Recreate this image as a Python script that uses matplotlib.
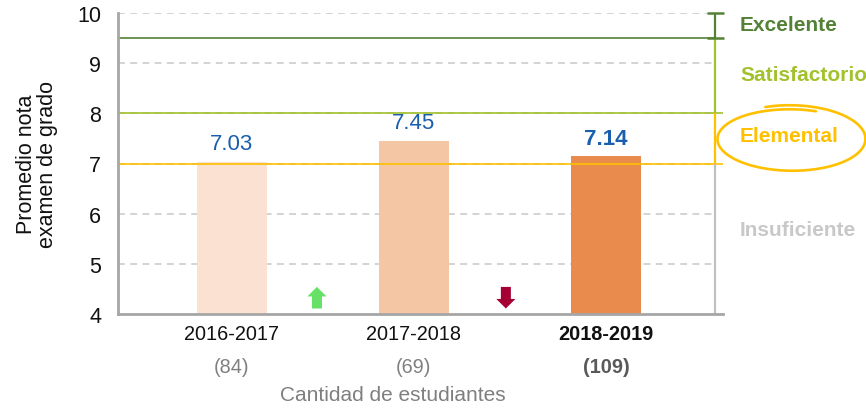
import numpy as np
import matplotlib
matplotlib.use("Agg")
import matplotlib.pyplot as plt
from matplotlib.patches import FancyArrow
from matplotlib.lines import Line2D

plt.rcParams['font.family'] = ['Liberation Sans', 'DejaVu Sans']

# ---- data ----
periods = ["2016-2017", "2017-2018", "2018-2019"]
scores = [7.03, 7.45, 7.14]
students = [84, 69, 109]
bar_colors = ["#FBE1D1", "#F4C6A3", "#E88B4C"]
levels = ["Excelente", "Satisfactorio", "Elemental", "Insuficiente"]
level_bounds = [10, 9.5, 8, 7, 4]
level_colors = ["#538135", "#A2C12C", "#FFC000", "#C0C0C0"]
level_text_y = [9.78, 8.78, 7.55, 5.69]
trend_dirs = ["up", "down"]

# ---- layout ----
W, H = 866, 410
fig = plt.figure(figsize=(W / 100, H / 100), dpi=100)
ax = fig.add_axes([118 / W, 95 / H, 605 / W, 301 / H])
xpos = [0, 1, 2.055]
xlim = (-0.626, 2.698)
ax.set_xlim(*xlim)
ax.set_ylim(4, 10)

spine_c = "#A6A6A6"
for s in ["top", "right"]:
    ax.spines[s].set_visible(False)
for s in ["left", "bottom"]:
    ax.spines[s].set_color(spine_c)
    ax.spines[s].set_linewidth(2)
    ax.spines[s].set_zorder(5)

# grid
for yv in [5, 6, 7, 8, 9, 10]:
    ax.hlines(yv, xlim[0], 2.637, colors="#C8C8C8", linestyles=(0, (4.5, 3.5)),
              linewidth=1.1, zorder=1)

# bars
ax.bar(xpos, scores, width=0.385, color=bar_colors, zorder=2, bottom=0)

# level lines
ax.hlines(level_bounds[1], xlim[0], 2.654, colors=level_colors[0], linewidth=1.2, zorder=3)
ax.hlines(level_bounds[2], xlim[0], xlim[1], colors=level_colors[1], linewidth=1.2, zorder=3)
ax.hlines(level_bounds[3], xlim[0], xlim[1], colors=level_colors[2], linewidth=1.2, zorder=3)

# range bar
rx = 2.654
for i in range(4):
    ax.vlines(rx, level_bounds[i + 1], level_bounds[i], colors=level_colors[i],
              linewidth=1.6, zorder=4, clip_on=False)
for yv in level_bounds[:2]:
    ax.hlines(yv, rx - 0.045, rx + 0.048, colors=level_colors[0], linewidth=1.8,
              zorder=4, clip_on=False)

# level labels
for name, yv, c in zip(levels, level_text_y, level_colors):
    tc = "#C8C8C8" if name == "Insuficiente" else c
    ax.text(2.791, yv, name, color=tc, fontsize=15, fontweight="bold",
            ha="left", va="center", clip_on=False)

# value labels
for i, (x, v) in enumerate(zip(xpos, scores)):
    ax.annotate(f"{v:.2f}", (x, v), xytext=(0, 9), textcoords="offset points",
                ha="center", va="baseline", fontsize=16, color="#1B5EAD",
                fontweight="bold" if i == 2 else "normal", zorder=6)

# ticks
ax.set_yticks([4, 5, 6, 7, 8, 9, 10])
ax.tick_params(axis="y", length=0, labelsize=15.5, pad=12, labelcolor="#111111")
ax.set_xticks(xpos)
ax.set_xticklabels(periods)
ax.tick_params(axis="x", length=0, labelsize=14.3, pad=7, labelcolor="#111111")
ax.get_xticklabels()[2].set_fontweight("bold")

# student counts
trans = ax.get_xaxis_transform()
for i, (x, n) in enumerate(zip(xpos, students)):
    ax.text(x, -0.176, f"({n})", transform=trans, ha="center", va="center",
            fontsize=14.3, color="#808080" if i < 2 else "#595959",
            fontweight="bold" if i == 2 else "normal")
ax.text(0.4545, -0.269, "Cantidad de estudiantes", transform=ax.transAxes,
        ha="center", va="center", fontsize=15, color="#7F7F7F")

ax.set_ylabel("Promedio nota\nexamen de grado", fontsize=15.5, linespacing=1.0,
              labelpad=14, color="#111111")

# trend arrows
arrow_x = [0.467, 1.505]
arrow_c = {"up": "#66E066", "down": "#A50034"}
for x, d in zip(arrow_x, trend_dirs):
    if d == "up":
        y0, dy = 4.11, 0.43
    else:
        y0, dy = 4.54, -0.43
    ax.add_patch(FancyArrow(x, y0, 0, dy, width=0.055, head_width=0.105,
                            head_length=0.19, length_includes_head=True,
                            color=arrow_c[d], zorder=4, linewidth=0))

# hand-drawn circle around "Elemental"
cx, cy, a, b = 791, 140, 73, 31
th = np.linspace(np.deg2rad(70), np.deg2rad(70 + 360 + 40), 300)
bb = b + np.linspace(-1.5, 3.0, th.size)
aa = a + np.linspace(0, 2, th.size)
px = cx + aa * np.cos(th)
py = cy - bb * np.sin(th)
fig.add_artist(Line2D(px / W, (H - py) / H, transform=fig.transFigure,
                      color="#FFC000", linewidth=1.9, solid_capstyle="round"))

fig.savefig("out.png", dpi=100)
